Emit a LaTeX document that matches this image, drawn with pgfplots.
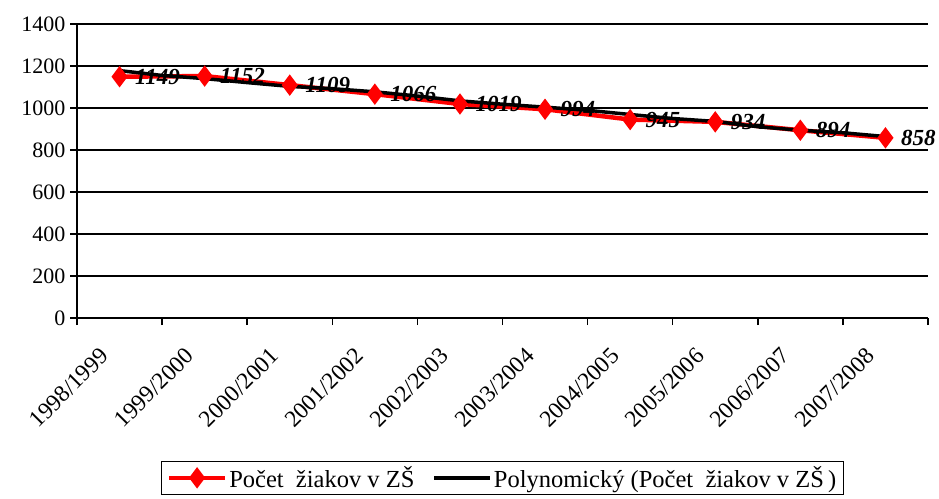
\documentclass[border=0pt]{standalone}
\usepackage{fontspec}
\setmainfont{Liberation Serif}
\usepackage{pgfplots}
\pgfplotsset{compat=1.18}
\begin{document}
\begin{tikzpicture}
\useasboundingbox (-77bp,-181bp) rectangle (862bp,318bp);
\begin{axis}[
  at={(0,0)}, anchor=south west,
  scale only axis, width=851bp, height=294bp,
  xmin=0.5, xmax=10.5, ymin=0, ymax=1400,
  ytick={0,200,...,1400},
  xtick={0.5,1.5,...,10.5},
  xticklabels={},
  extra x ticks={1,2,3,4,5,6,7,8,9,10},
  extra x tick labels={1998/1999,1999/2000,2000/2001,2001/2002,2002/2003,2003/2004,2004/2005,2005/2006,2006/2007,2007/2008},
  extra x tick style={major tick length=0pt, grid=none,
    xticklabel style={font=\fontsize{23.5bp}{27bp}\selectfont, xshift=-15bp, yshift=-34bp, rotate=45, anchor=east, inner sep=0pt}},
  axis x line*=bottom, axis y line*=left,
  axis line style={line width=1.5bp, -},
  tick align=outside,
  major tick length=7bp,
  tick style={line width=1.5bp, black},
  ymajorgrids, grid style={line width=1.2bp, black},
  /pgf/number format/assume math mode=true,
  /pgf/number format/1000 sep={},
  yticklabel style={font=\fontsize{22bp}{26bp}\selectfont, xshift=-1bp},
  legend columns=2,
  legend style={at={(0.5,-0.4864)}, anchor=north, draw=black, line width=1.2bp,
    font=\fontsize{24.5bp}{28bp}\selectfont,
    /tikz/every even column/.append style={column sep=16bp},
    inner xsep=5bp, inner ysep=3bp},
  legend image code/.code={\draw[mark repeat=2,mark phase=2,#1] plot coordinates {(0bp,0bp) (28bp,0bp) (56bp,0bp)};},
]
\addplot[red, line width=4.5bp, mark=diamond*, mark size=7bp, mark options={solid},
  nodes near coords, point meta=y,
  nodes near coords style={font=\fontsize{23bp}{27bp}\selectfont\bfseries\itshape, text=black, anchor=west, xshift=10bp}]
  coordinates {(1,1149) (2,1152) (3,1109) (4,1066) (5,1019) (6,994) (7,945) (8,934) (9,894) (10,858)};
\addlegendentry{Počet\ \ žiakov v ZŠ}
\addplot[black, line width=3.5bp, mark=none]
  coordinates {(1,1178) (1.5,1155) (2,1140) (2.5,1121) (3,1103) (3.5,1092) (4,1077) (4.5,1057) (5,1034) (5.5,1018) (6,1004) (6.5,989) (7,969) (7.5,950) (8,936) (8.5,911) (9,894) (9.5,882) (10,864)};
\addlegendentry{Polynomický (Počet\ \ žiakov v ZŠ\,)}
\end{axis}
\end{tikzpicture}
\end{document}
